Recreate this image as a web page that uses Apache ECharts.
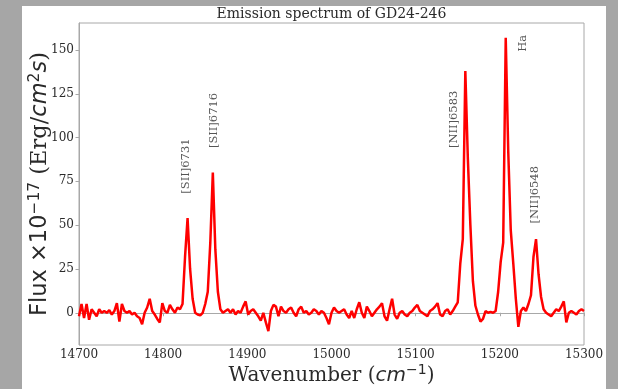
<!DOCTYPE html>
<html><head><meta charset="utf-8">
<script src="https://cdn.jsdelivr.net/npm/echarts@6/dist/echarts.min.js"></script>
<style>html,body{margin:0;padding:0;background:#a6a6a6}#c{width:618px;height:389px}</style>
</head><body><div id="c"></div><script>
const WAVE_START = 14700;
const WAVE_STEP = 3;
const flux = [
  -2, 5, -3, 5, -4, 2, 0, -2, 2, 0,
  1, 0, 1.5, -1, 1, 5.5, -5, 5, 1, 0,
  1, -1, 0, -2, -3, -6.5, 0, 3, 8, 1,
  -1, -3.5, -5.5, 5.5, 1, 0, 4.5, 2, 0, 3,
  2, 5, 32, 54, 25, 8, 0, -1, -1.5, 0,
  5, 12, 40, 80, 36, 12, 2, 0, 1, 2,
  0, 2, -1, 1, 0, 3.5, 6.5, -1, 1, 2,
  0, -2, -4.5, 0, -5.5, -10.5, 1, 4.5, 3.5, -2,
  3.5, 1, 0, 2, 3, 0, -2, 2, 3.5, 0,
  1, -1, 0, 2, 1, -1, 1, 0, -3, -6.5,
  0, 3, 1, 0, 1, 2, -1, -3, 1, -3,
  2, 6, 0, -3, 3.5, 1, -2, 0, 2, 3.5,
  5.5, -2, -4.5, 2, 8, -1, -3.5, 0, 1, -1,
  -2, 0, 1, 3, 4.5, 1, 0, -1, -2, 1,
  2, 3.5, 5.5, -1, -2, 1, 2, -1, 1, 3.5,
  6, 28, 42, 138, 88, 50, 18, 4, -1, -5,
  -3.5, 1, 0, 0.5, 0, 1, 12, 29, 40, 157,
  92, 47, 28, 8, -8, 1, 3, 1, 5, 10,
  32, 42, 22, 9, 2, 0, -1, -2, 0, 2,
  1, 3.5, 6.5, -5.5, 0, 1, 0, -1, 1, 2,
  1
];
const xMin = 14700, xMax = 15300, xStep = 100;
const yMin = -18.4, yMax = 165.4;
const yTicks = [0, 25, 50, 75, 100, 125, 150];
const lineNames = ['[SII]6731', '[SII]6716', '[NII]6583', 'Ha', '[NII]6548'];
const lineLabelX = [14827, 14861, 15145, 15228, 15242];
const lineLabelY = [68, 94, 94, 149, 51];
const titleText = 'Emission spectrum of GD24-246';

const chart = echarts.init(document.getElementById('c'), null, {renderer: 'canvas'});
const spine = '#a8a8a8';
const textColor = '#2a2a2a';
const serif = 'DejaVu Serif';
const sans = 'DejaVu Sans';
function richFor(size, supSize, raise) {
  return {
    s: {fontFamily: sans, fontSize: size, color: textColor, verticalAlign: 'bottom'},
    r: {fontFamily: serif, fontSize: size, color: textColor, verticalAlign: 'bottom'},
    i: {fontFamily: sans, fontStyle: 'italic', fontSize: size, color: textColor, verticalAlign: 'bottom'},
    sup: {fontFamily: sans, fontSize: supSize, color: textColor, verticalAlign: 'bottom', padding: [0, 0, raise, 0]}
  };
}

chart.setOption({
  animation: false,
  backgroundColor: '#a6a6a6',
  graphic: [
    {type: 'rect', z: -10, shape: {x: 22, y: 6, width: 584, height: 383}, style: {fill: '#ffffff'}},
    {type: 'text', x: 331.5, y: 7, style: {text: titleText, font: '14px "DejaVu Serif"', fill: textColor, align: 'center', verticalAlign: 'top'}}
  ],
  grid: {left: 79, top: 23, right: 34, bottom: 44, outerBoundsMode: 'none', show: true, borderColor: spine, borderWidth: 1, backgroundColor: 'transparent'},
  xAxis: {
    type: 'value', min: xMin, max: xMax, interval: xStep,
    axisLine: {show: true, lineStyle: {color: spine}},
    axisTick: {show: true, length: 3.5, lineStyle: {color: spine}},
    axisLabel: {fontFamily: serif, fontSize: 12, color: textColor, margin: 4, formatter: v => String(v)},
    splitLine: {show: false},
    name: '{r|Wavenumber (}{i|cm}{sup|−1}{r|)}',
    nameLocation: 'middle', nameGap: 18, nameMoveOverlap: false,
    nameTextStyle: {rich: richFor(20, 14, 9)}
  },
  yAxis: {
    type: 'value', min: yMin, max: yMax,
    axisLine: {show: true, lineStyle: {color: spine}},
    axisTick: {show: true, length: 3.5, lineStyle: {color: spine}, customValues: yTicks},
    axisLabel: {fontFamily: serif, fontSize: 12, color: textColor, margin: 5, customValues: yTicks},
    splitLine: {show: false},
    name: '{s|Flux ×10}{sup|−17}{s| }{r|(Erg/}{i|cm}{sup|2}{i|s}{r|)}',
    nameLocation: 'middle', nameRotate: 90, nameGap: 27, nameMoveOverlap: false,
    nameTextStyle: {rich: richFor(22.5, 15.5, 9)}
  },
  series: [
    {
      type: 'line',
      data: flux.map((v, i) => [WAVE_START + i * WAVE_STEP, v]),
      showSymbol: false, symbol: 'none',
      lineStyle: {color: '#ff0000', width: 2.5},
      z: 3
    },
    {
      type: 'scatter',
      symbolSize: 0,
      data: lineNames.map((n, k) => ({name: n, value: [lineLabelX[k], lineLabelY[k]]})),
      label: {
        show: true, position: 'inside', rotate: 90, align: 'left', verticalAlign: 'middle',
        formatter: p => p.name, fontFamily: serif, fontSize: 11.5, color: textColor
      },
      z: 4
    }
  ]
});
</script></body></html>
